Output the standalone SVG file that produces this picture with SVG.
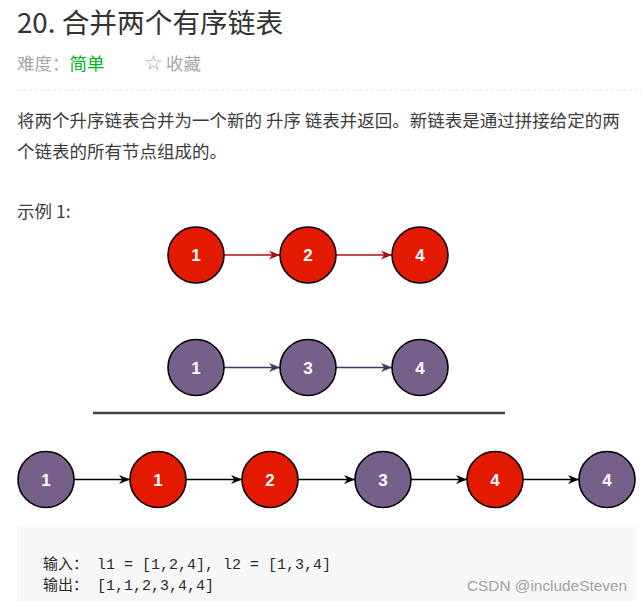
<svg xmlns="http://www.w3.org/2000/svg" width="642" height="601" viewBox="0 0 642 601">
<defs>
<style>
.cjk{font-family:"Noto Sans CJK SC","Liberation Sans",sans-serif;}
.title{font-size:27.7px;fill:#333;}
.body{font-size:17.5px;fill:#3d3d3d;}
.meta{font-size:17.5px;fill:#a6a6a6;}
.code{font-family:"Liberation Mono","Noto Sans CJK SC",monospace;font-size:15px;fill:#2b2b2b;}
.node circle{stroke:#000;stroke-width:1.6;}
.red circle{fill:#e31a00;}
.pur circle{fill:#76608a;}
.node text{font-family:"Liberation Sans",Arial,sans-serif;font-weight:bold;font-size:17px;fill:#fff;text-anchor:middle;}
.edge{fill:none;stroke-width:1.5;}
</style>
<marker id="ar" viewBox="0 0 10 8" refX="10" refY="4" markerWidth="11" markerHeight="9" markerUnits="userSpaceOnUse" orient="auto"><path d="M0,0 L10,4 L0,8 L3,4 z" fill="#b01010"/></marker>
<marker id="ap" viewBox="0 0 10 8" refX="10" refY="4" markerWidth="11" markerHeight="9" markerUnits="userSpaceOnUse" orient="auto"><path d="M0,0 L10,4 L0,8 L3,4 z" fill="#46355a"/></marker>
<marker id="ab" viewBox="0 0 10 8" refX="10" refY="4" markerWidth="11" markerHeight="9" markerUnits="userSpaceOnUse" orient="auto"><path d="M0,0 L10,4 L0,8 L3,4 z" fill="#000"/></marker>
</defs>
<rect width="642" height="601" fill="#fff"/>

<!-- header -->
<text class="cjk title" x="17" y="33">20. 合并两个有序链表</text>
<text class="cjk meta" x="17" y="70">难度：<tspan fill="#00b41e">简单</tspan></text>
<text class="meta" x="144" y="70" style="font-family:'DejaVu Sans',sans-serif;font-size:21px">☆</text>
<text class="cjk meta" x="166" y="70">收藏</text>
<line x1="17" y1="90" x2="642" y2="90" stroke="#e3e3e3" stroke-width="1" stroke-dasharray="3,3"/>

<text class="cjk body" x="17" y="127">将两个升序链表合并为一个新的 升序 链表并返回。新链表是通过拼接给定的两</text>
<text class="cjk body" x="17" y="158">个链表的所有节点组成的。</text>
<text class="cjk body" x="17" y="218">示例 1:</text>

<!-- connectors -->
<g id="connectors">
<line class="edge" x1="224" y1="255" x2="280" y2="255" stroke="#b01010" marker-end="url(#ar)"/>
<line class="edge" x1="336" y1="255" x2="392" y2="255" stroke="#b01010" marker-end="url(#ar)"/>
<line class="edge" x1="224" y1="367.5" x2="280" y2="367.5" stroke="#46355a" marker-end="url(#ap)"/>
<line class="edge" x1="336" y1="367.5" x2="392" y2="367.5" stroke="#46355a" marker-end="url(#ap)"/>
<line class="edge" x1="74" y1="479.5" x2="130" y2="479.5" stroke="#000" marker-end="url(#ab)"/>
<line class="edge" x1="186" y1="479.5" x2="242" y2="479.5" stroke="#000" marker-end="url(#ab)"/>
<line class="edge" x1="298" y1="479.5" x2="355" y2="479.5" stroke="#000" marker-end="url(#ab)"/>
<line class="edge" x1="411" y1="479.5" x2="467" y2="479.5" stroke="#000" marker-end="url(#ab)"/>
<line class="edge" x1="523" y1="479.5" x2="579" y2="479.5" stroke="#000" marker-end="url(#ab)"/>
</g>

<!-- list 1 -->
<g id="a1" class="node red"><circle cx="196" cy="255" r="28"/><text x="196" y="261">1</text></g>
<g id="a2" class="node red"><circle cx="308" cy="255" r="28"/><text x="308" y="261">2</text></g>
<g id="a4" class="node red"><circle cx="420" cy="255" r="28"/><text x="420" y="261">4</text></g>

<!-- list 2 -->
<g id="b1" class="node pur"><circle cx="196" cy="367.5" r="28"/><text x="196" y="373.5">1</text></g>
<g id="b3" class="node pur"><circle cx="308" cy="367.5" r="28"/><text x="308" y="373.5">3</text></g>
<g id="b4" class="node pur"><circle cx="420" cy="367.5" r="28"/><text x="420" y="373.5">4</text></g>

<line x1="93" y1="413" x2="505" y2="413" stroke="#444" stroke-width="2.5"/>

<!-- merged -->
<g id="m1" class="node pur"><circle cx="46" cy="479.5" r="28"/><text x="46" y="485.5">1</text></g>
<g id="m2" class="node red"><circle cx="158" cy="479.5" r="28"/><text x="158" y="485.5">1</text></g>
<g id="m3" class="node red"><circle cx="270" cy="479.5" r="28"/><text x="270" y="485.5">2</text></g>
<g id="m4" class="node pur"><circle cx="383" cy="479.5" r="28"/><text x="383" y="485.5">3</text></g>
<g id="m5" class="node red"><circle cx="495" cy="479.5" r="28"/><text x="495" y="485.5">4</text></g>
<g id="m6" class="node pur"><circle cx="607" cy="479.5" r="28"/><text x="607" y="485.5">4</text></g>

<!-- code box -->
<rect x="17" y="527" width="619" height="74" fill="#f7f7f7"/>
<text class="code" x="43" y="569">输入：<tspan x="97">l1 = [1,2,4], l2 = [1,3,4]</tspan></text>
<text class="code" x="43" y="590">输出：<tspan x="97">[1,1,2,3,4,4]</tspan></text>
<text x="467" y="591" textLength="160" lengthAdjust="spacingAndGlyphs" style="font-family:'Liberation Sans',Arial,sans-serif;font-size:15.5px;fill:#a3a3a3">CSDN @includeSteven</text>
</svg>
